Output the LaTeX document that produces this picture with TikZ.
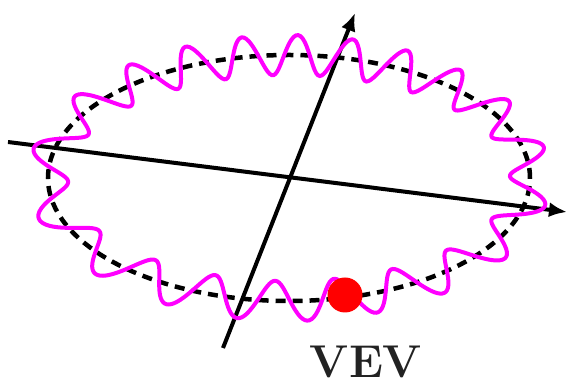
\documentclass[tikz,border=0pt]{standalone}
\usetikzlibrary{arrows.meta}
\definecolor{Wave}{HTML}{FF00FF}
\definecolor{Dot}{HTML}{FF0000}
\definecolor{Ink}{HTML}{222222}

\begin{document}
\begin{tikzpicture}[x=1pt,y=1pt,
  axis/.style={line width=4pt,-{Latex[length=18pt,width=15pt]}},
  vacuum/.style={line width=4.5pt,dash pattern=on 10pt off 7pt},
  wave/.style={draw=Wave,line width=4pt},
  vev/.style={circle,fill=Dot,minimum size=35pt,inner sep=0pt},
  declare function={ph(\t)=20*\t-185.6*sin(2*\t)-175.3*cos(\t)+76.2*sin(\t)+69.9;}
]
\useasboundingbox (0,0) rectangle (568,388);
\coordinate (o) at (289,210);
\coordinate (x0) at (8,246);
\coordinate (x1) at (567,176);
\coordinate (y0) at (223,40);
\coordinate (y1) at (355,375);
\draw[axis] (x0) -- (x1);
\draw[axis] (y0) -- (y1);
\draw[vacuum] (o) ellipse[x radius=241,y radius=123];
\draw[wave] plot[smooth cycle,domain=0:359.5,samples=720,variable=\t]
  ({289+(241+20*sin(ph(\t)))*cos(\t)},{210+(123+20*sin(ph(\t)))*sin(\t)});
\node[vev] (dot) at (345,93) {};
\node[font=\fontsize{46}{54}\selectfont\bfseries,text=Ink,inner sep=0pt,anchor=base] (label) at (366,10) {VEV};
\end{tikzpicture}
\end{document}
